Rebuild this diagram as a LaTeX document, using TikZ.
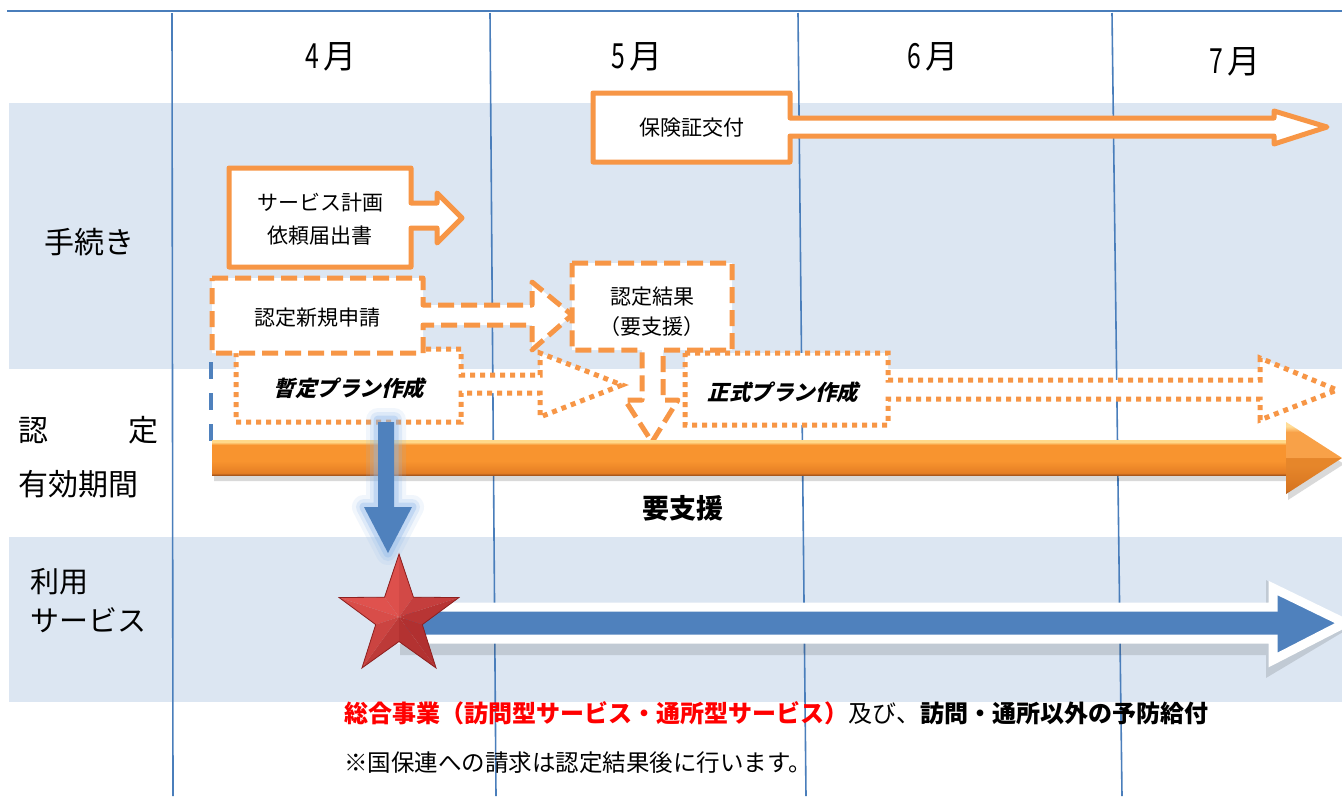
\documentclass[tikz,border=0pt]{standalone}
\usepackage{fontspec}
\setmainfont{Noto Sans CJK JP}
\newfontfamily\jpsl{Noto Sans CJK JP}[FakeSlant=0.25]
\usetikzlibrary{calc}
\definecolor{band}{HTML}{DCE6F2}
\definecolor{gridblue}{HTML}{4A7EBB}
\definecolor{orng}{HTML}{F79646}
\definecolor{abl}{HTML}{4F81BD}
\definecolor{glowc}{HTML}{8DB8EA}
\definecolor{orlight}{HTML}{FFD98A}
\definecolor{ormid}{HTML}{F8942F}
\definecolor{ormid2}{HTML}{E57E24}
\definecolor{orbot}{HTML}{A9581C}
\definecolor{starlight}{HTML}{E25450}
\definecolor{stardark}{HTML}{A82A2A}
\definecolor{starline}{HTML}{8E2020}
\pgfdeclareverticalshading{orshade}{100bp}{color(0bp)=(orbot); color(25bp)=(orbot); color(28bp)=(ormid2); color(45bp)=(ormid); color(68bp)=(ormid); color(72bp)=(orlight); color(75bp)=(orlight); color(100bp)=(orlight)}
\tikzset{
  gridline/.style={draw=gridblue, line width=1.6},
  solidshape/.style={draw=orng, line width=5, fill=white, line join=round},
  dashshape/.style={draw=orng, line width=5, fill=white, line join=round, dash pattern=on 16pt off 7pt},
  dotshape/.style={draw=orng, line width=5, fill=white, line join=miter, dash pattern=on 5pt off 5pt},
  boxtext/.style={font=\fontsize{21}{33}\selectfont, inner sep=0, align=center},
  sltext/.style={font=\jpsl\bfseries\fontsize{21.5}{26}\selectfont, inner sep=0},
  sidetext/.style={font=\fontsize{30}{36}\selectfont, inner sep=0},
  monthtext/.style={font=\fontsize{33}{36}\selectfont, inner sep=0},
}
\newcommand\mdigit[1]{\scalebox{0.75}[1.05]{#1}\kern4pt}
\begin{document}
\begin{tikzpicture}[x=1pt,y=-1pt]
\useasboundingbox (0,0) rectangle (1342,796);
\fill[white] (0,0) rectangle (1342,796);
% bands
\fill[band] (9,103) rectangle (1342,369);
\fill[band] (9,537) rectangle (1342,702);
% grid
\draw[gridline] (7,11) -- (1342,11);
\draw[gridline] (172,13) -- (173,796);
\draw[gridline] (490,13) -- (496,796);
\draw[gridline] (798,13) -- (806,796);
\draw[gridline] (1112,13) -- (1122,796);
% month labels
\node[monthtext] (m4) at (331,57) {\mdigit{4}月};
\node[monthtext] (m5) at (637,57) {\mdigit{5}月};
\node[monthtext] (m6) at (933,57) {\mdigit{6}月};
\node[monthtext] (m7) at (1235,62) {\mdigit{7}月};
% side labels
\node[sidetext] (tetsu) at (89,242) {手続き};
\node[sidetext] (nin) at (33,430) {認};
\node[sidetext] (tei) at (143,430) {定};
\node[sidetext, anchor=west] (kikan) at (18,484) {有効期間};
\node[sidetext, anchor=west, font=\fontsize{29}{34}\selectfont] (riyo) at (30,582) {利用};
\node[sidetext, anchor=west, font=\fontsize{29}{34}\selectfont] (svc) at (30,620) {サービス};
% 保険証交付
\path[solidshape] (593,93) -- (790,93) -- (790,118) -- (1274,118) -- (1274,111) -- (1327,127) -- (1274,144) -- (1274,136) -- (790,136) -- (790,162) -- (593,162) -- cycle;
\node[boxtext] (hoken) at (692,128) {保険証交付};
% サービス計画
\path[solidshape] (229,168) -- (411,168) -- (411,203) -- (437,203) -- (437,193) -- (462,218) -- (437,243) -- (437,228) -- (411,228) -- (411,267) -- (229,267) -- cycle;
\node[boxtext] (keikaku) at (320,219) {サービス計画\\依頼届出書};
% 暫定プラン作成
\path[dotshape] (236,349) -- (461,349) -- (461,375) -- (540,375) -- (540,353) -- (622,385) -- (540,417) -- (540,393) -- (461,393) -- (461,422) -- (236,422) -- cycle;
\node[sltext] (zantei) at (349,388) {暫定プラン作成};
% 認定新規申請
\path[dashshape] (212,278) -- (423,278) -- (423,305) -- (532,305) -- (532,282) -- (572,315) -- (532,350) -- (532,325) -- (423,325) -- (423,353) -- (212,353) -- cycle;
\node[boxtext] (shinki) at (317,318) {認定新規申請};
% 認定結果
\path[dashshape] (572,263) -- (732,263) -- (732,350) -- (663,350) -- (663,400) -- (678,400) -- (652,442) -- (625,400) -- (642,400) -- (642,350) -- (572,350) -- cycle;
\node[boxtext, font=\fontsize{21}{30}\selectfont] (kekka) at (652,312) {認定結果\\（要支援）};
% 正式プラン作成
\path[dotshape] (685,353) -- (888,353) -- (888,380) -- (1260,380) -- (1260,358) -- (1337,390) -- (1260,420) -- (1260,399) -- (888,399) -- (888,425) -- (685,425) -- cycle;
\node[sltext] (seishiki) at (783,392) {正式プラン作成};
% blue dashed vertical
\draw[draw=abl, line width=4, dash pattern=on 17pt off 14pt] (211,362) -- (211,446);
% big orange arrow
\fill[black, opacity=0.15] (214,446) -- (1288,446) -- (1288,428) -- (1344,464) -- (1288,500) -- (1288,481) -- (214,481) -- cycle;
\shade[shading=orshade] (212,440) rectangle (1290,475);
\shade[shading=orshade] (1286,422) -- (1342,458) -- (1286,494) -- cycle;
\fill[white, opacity=0.12] (1286,422) -- (1342,458) -- (1286,458) -- cycle;
\fill[orbot, opacity=0.22] (1286,458) -- (1342,458) -- (1286,494) -- cycle;
\node[font=\bfseries\fontsize{27}{32}\selectfont, inner sep=0] (yoshien) at (683,508) {要支援};
% blue down arrow with glow
\foreach \w/\o in {24/0.12, 16/0.2, 9/0.35}{
  \path[draw=glowc, line width=\w, opacity=\o, line join=round] (378,420) -- (394,420) -- (394,507) -- (412,507) -- (388,553) -- (364,507) -- (378,507) -- cycle;
}
\fill[abl] (378,422) -- (394,422) -- (394,507) -- (412,507) -- (388,553) -- (364,507) -- (378,507) -- cycle;
% big blue arrow
\fill[black, opacity=0.12] (400,603) -- (1266,603) -- (1266,580) -- (1348,629) -- (1266,678) -- (1266,655) -- (400,655) -- cycle;
\path[draw=white, line width=9, fill=abl, line join=miter, miter limit=3] (400,607) -- (1273,607) -- (1273,588) -- (1345,623) -- (1273,660) -- (1273,639) -- (400,639) -- cycle;
% star
\coordinate (sc) at (399,617);
\foreach \k in {0,...,4}{
  \pgfmathsetmacro\aa{90+72*\k}
  \coordinate (so\k) at ({399+63*cos(\aa)},{617-63*sin(\aa)});
  \coordinate (si\k) at ({399+24.5*cos(\aa+36)},{617-24.5*sin(\aa+36)});
}
\fill[black, opacity=0.2, shift={(3,4)}] (so0) -- (si0) -- (so1) -- (si1) -- (so2) -- (si2) -- (so3) -- (si3) -- (so4) -- (si4) -- cycle;
\foreach \k/\p in {0/4,1/0,2/1,3/2,4/3}{
  \pgfmathsetmacro\aa{90+72*\k}
  \pgfmathsetmacro\pA{round(55+40*cos(\aa+18-135))}
  \pgfmathsetmacro\pB{round(55+40*cos(\aa-18-135))}
  \fill[starlight!\pA!stardark] (sc) -- (so\k) -- (si\k) -- cycle;
  \fill[starlight!\pB!stardark] (sc) -- (so\k) -- (si\p) -- cycle;
}
\draw[starline, line width=0.8, line join=miter] (so0) -- (si0) -- (so1) -- (si1) -- (so2) -- (si2) -- (so3) -- (si3) -- (so4) -- (si4) -- cycle;
% bottom texts
\node[anchor=west, inner sep=0, font=\bfseries\fontsize{24}{28}\selectfont] (sogo) at (344,713) {\textcolor{red}{総合事業（訪問型サービス・通所型サービス）}{\mdseries 及び、}訪問・通所以外の予防給付};
\node[anchor=west, inner sep=0, font=\fontsize{23.5}{28}\selectfont] (note) at (344,763) {※国保連への請求は認定結果後に行います。};
\end{tikzpicture}
\end{document}
